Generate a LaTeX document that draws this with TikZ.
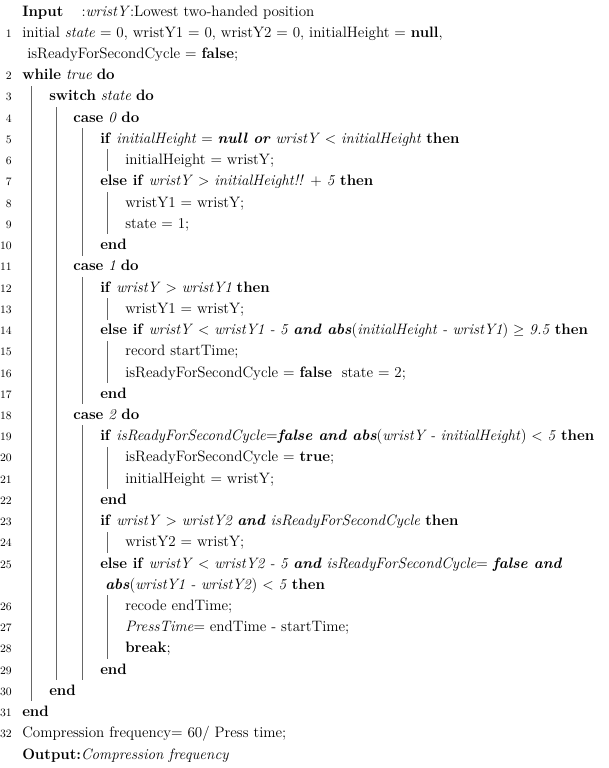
\documentclass[tikz,border=0pt]{standalone}
\usepackage{amssymb}
\begin{document}
\begin{tikzpicture}[x=0.75pt,y=-0.75pt,
  txt/.style={anchor=base west, inner sep=0pt, font=\fontsize{11.3}{13}\selectfont},
  num/.style={anchor=base east, inner sep=0pt, font=\fontsize{8.5}{10}\selectfont},
  rule/.style={draw=black!60, line width=0.5pt}]
  \useasboundingbox (0,0) rectangle (608,768);

  \node (in) [txt] at (22,16) {\textbf{Input}\hspace{1.2em}:\textit{wristY}:Lowest two-handed position};
  \node (n1) [num] at (12,37) {1};
  \node (l1) [txt] at (22,37) {initial \textit{state} = 0, wristY1 = 0, wristY2 = 0, initialHeight = \textbf{null},};
  \node (c1) [txt] at (27,58.5) {isReadyForSecondCycle = \textbf{false};};
  \node (n2) [num] at (12,79.7) {2};
  \node (l2) [txt] at (22,79.7) {\textbf{while} \textit{true} \textbf{do}};
  \node (n3) [num] at (12,100.9) {3};
  \node (l3) [txt] at (49,100.9) {\textbf{switch} \textit{state} \textbf{do}};
  \node (n4) [num] at (12,122) {4};
  \node (l4) [txt] at (73,122) {\textbf{case} \textit{0} \textbf{do}};
  \node (n5) [num] at (12,143) {5};
  \node (l5) [txt] at (100,143) {\textbf{if} \textit{initialHeight} = \textbf{\textit{null or}} \textit{wristY} $<$ \textit{initialHeight} \textbf{then}};
  \node (n6) [num] at (12,164.6) {6};
  \node (l6) [txt] at (125,164.6) {initialHeight = wristY;};
  \node (n7) [num] at (12,185.8) {7};
  \node (l7) [txt] at (100,185.8) {\textbf{else if} \textit{wristY} $>$ \textit{initialHeight!!} + \textit{5} \textbf{then}};
  \node (n8) [num] at (12,207) {8};
  \node (l8) [txt] at (125,207) {wristY1 = wristY;};
  \node (n9) [num] at (12,228) {9};
  \node (l9) [txt] at (125,228) {state = 1;};
  \node (n10) [num] at (12,249.5) {10};
  \node (l10) [txt] at (100,249.5) {\textbf{end}};
  \node (n11) [num] at (12,270.8) {11};
  \node (l11) [txt] at (73,270.8) {\textbf{case} \textit{1} \textbf{do}};
  \node (n12) [num] at (12,292) {12};
  \node (l12) [txt] at (100,292) {\textbf{if} \textit{wristY} $>$ \textit{wristY1} \textbf{then}};
  \node (n13) [num] at (12,313) {13};
  \node (l13) [txt] at (125,313) {wristY1 = wristY;};
  \node (n14) [num] at (12,334.5) {14};
  \node (l14) [txt] at (100,334.5) {\textbf{else if} \textit{wristY} $<$ \textit{wristY1 - 5} \textbf{\textit{and abs}}(\textit{initialHeight - wristY1}) $\geq$ \textit{9.5} \textbf{then}};
  \node (n15) [num] at (12,355.7) {15};
  \node (l15) [txt] at (125,355.7) {record startTime;};
  \node (n16) [num] at (12,377) {16};
  \node (l16) [txt] at (125,377) {isReadyForSecondCycle = \textbf{false}\ \ state = 2;};
  \node (n17) [num] at (12,398) {17};
  \node (l17) [txt] at (100,398) {\textbf{end}};
  \node (n18) [num] at (12,419) {18};
  \node (l18) [txt] at (73,419) {\textbf{case} \textit{2} \textbf{do}};
  \node (n19) [num] at (12,440.6) {19};
  \node (l19) [txt] at (100,440.6) {\textbf{if} \textit{isReadyForSecondCycle}=\textbf{\textit{false and abs}}(\textit{wristY - initialHeight}) $<$ \textit{5} \textbf{then}};
  \node (n20) [num] at (12,461.8) {20};
  \node (l20) [txt] at (125,461.8) {isReadyForSecondCycle = \textbf{true};};
  \node (n21) [num] at (12,483) {21};
  \node (l21) [txt] at (125,483) {initialHeight = wristY;};
  \node (n22) [num] at (12,504) {22};
  \node (l22) [txt] at (100,504) {\textbf{end}};
  \node (n23) [num] at (12,525.5) {23};
  \node (l23) [txt] at (100,525.5) {\textbf{if} \textit{wristY} $>$ \textit{wristY2} \textbf{\textit{and}} \textit{isReadyForSecondCycle} \textbf{then}};
  \node (n24) [num] at (12,546.8) {24};
  \node (l24) [txt] at (125,546.8) {wristY2 = wristY;};
  \node (n25) [num] at (12,568) {25};
  \node (l25) [txt] at (100,568) {\textbf{else if} \textit{wristY} $<$ \textit{wristY2 - 5} \textbf{\textit{and}} \textit{isReadyForSecondCycle}= \textbf{\textit{false and}}};
  \node (c25) [txt] at (105,589) {\textbf{\textit{abs}}(\textit{wristY1 - wristY2}) $<$ \textit{5} \textbf{then}};
  \node (n26) [num] at (12,610.4) {26};
  \node (l26) [txt] at (125,610.4) {recode endTime;};
  \node (n27) [num] at (12,631.7) {27};
  \node (l27) [txt] at (125,631.7) {\textit{PressTime}= endTime - startTime;};
  \node (n28) [num] at (12,652.9) {28};
  \node (l28) [txt] at (125,652.9) {\textbf{break};};
  \node (n29) [num] at (12,674) {29};
  \node (l29) [txt] at (100,674) {\textbf{end}};
  \node (n30) [num] at (12,695) {30};
  \node (l30) [txt] at (49,695) {\textbf{end}};
  \node (n31) [num] at (12,716.6) {31};
  \node (l31) [txt] at (22,716.6) {\textbf{end}};
  \node (n32) [num] at (12,737.8) {32};
  \node (l32) [txt] at (22,737.8) {Compression frequency= 60/ Press time;};
  \node (out) [txt] at (22,759) {\textbf{Output:}\textit{Compression frequency}};

  % block rules
  \draw[rule] (31,86) -- (31,701);
  \draw[rule] (56,107) -- (56,680);
  \draw[rule] (82,128) -- (82,256);
  \draw[rule] (82,277) -- (82,404);
  \draw[rule] (82,425) -- (82,680);
  \draw[rule] (107,149) -- (107,171);
  \draw[rule] (107,192) -- (107,234);
  \draw[rule] (107,298) -- (107,320);
  \draw[rule] (107,341) -- (107,383);
  \draw[rule] (107,447) -- (107,489);
  \draw[rule] (107,532) -- (107,553);
  \draw[rule] (107,595) -- (107,659);
\end{tikzpicture}
\end{document}
